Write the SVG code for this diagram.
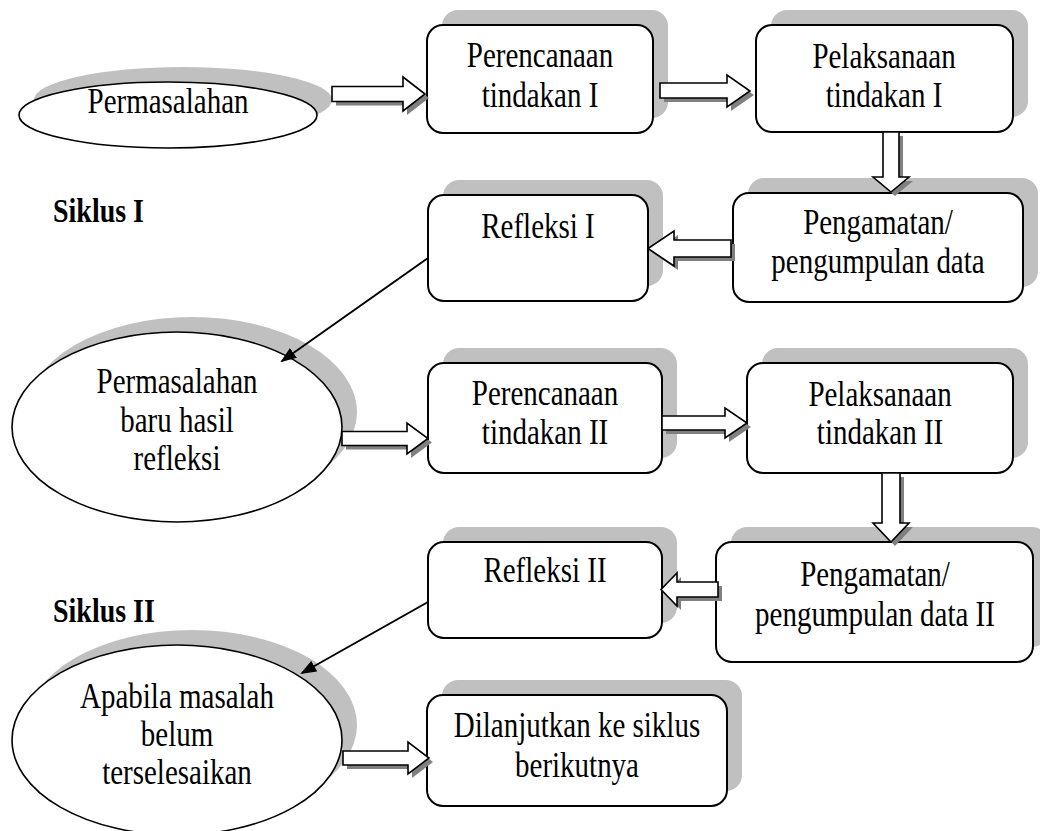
<svg xmlns="http://www.w3.org/2000/svg" xmlns:xlink="http://www.w3.org/1999/xlink" width="1040" height="831" viewBox="0 0 1040 831">
<style>
.bg{fill:#ffffff}
.sh{fill:#c0c0c0;stroke:none}
.nd{fill:#ffffff;stroke:#000000;stroke-width:2}
.el{fill:#ffffff;stroke:#000000;stroke-width:1.6}
.t{font-family:"Liberation Serif","Times New Roman",serif;font-size:29px;fill:#000000;text-anchor:middle}
.lb{font-family:"Liberation Serif","Times New Roman",serif;font-size:28px;font-weight:bold;fill:#000000}
.ash{fill:#808080;stroke:none}
.ar{fill:#ffffff;stroke:#000000;stroke-width:1.6;stroke-linejoin:miter}
.ln{fill:none;stroke:#000000;stroke-width:2}
</style>
<defs>
<marker id="tri" viewBox="0 0 16 12" refX="14" refY="6" markerWidth="16" markerHeight="12" markerUnits="userSpaceOnUse" orient="auto">
<path d="M0,0 L16,6 L0,12 Z" fill="#000000"/>
</marker>
<path id="pA1" d="M332,86.5 H403 V77 L425,94 L403,111 V101.5 H332 Z"/>
<path id="pA2" d="M660,83 H727 V75 L750,91 L727,107 V98 H660 Z"/>
<path id="pA3" d="M883,132 V177 H873 L891,192 L909,177 H899 V132 Z"/>
<path id="pA4" d="M731,240 H674 V231 L648,248.5 L674,266 V257 H731 Z"/>
<path id="pA5" d="M342,431.5 H407 V423 L428,438.5 L407,454 V445.5 H342 Z"/>
<path id="pA6" d="M662,416 H725 V408 L747,423 L725,438 V430 H662 Z"/>
<path id="pA7" d="M882,473 V523 H873 L891,542 L909,523 H900 V473 Z"/>
<path id="pA8" d="M718,582 H677 V573 L661,589.5 L677,606 V597 H718 Z"/>
<path id="pA9" d="M343,751 H408 V742 L429,758 L408,774 V765 H343 Z"/>
</defs>
<rect class="bg" x="0" y="0" width="1040" height="831"/>

<g id="label-siklus-1"><text class="lb" transform="matrix(1 0 0 1.2 53 222)">Siklus I</text></g>
<g id="label-siklus-2"><text class="lb" transform="matrix(1 0 0 1.2 53 622)">Siklus II</text></g>

<g id="node-permasalahan">
<ellipse class="sh" cx="183" cy="100" rx="149" ry="33"/>
<ellipse class="el" cx="168" cy="115" rx="149" ry="33"/>
<text class="t" transform="matrix(1 0 0 1.2 168 113)">Permasalahan</text>
</g>

<g id="node-perencanaan-1">
<rect class="sh" x="442" y="10" width="226" height="108" rx="16"/>
<rect class="nd" x="427" y="25" width="226" height="108" rx="16"/>
<text class="t" transform="matrix(1 0 0 1.2 540 67)">Perencanaan</text>
<text class="t" transform="matrix(1 0 0 1.2 540 107)">tindakan I</text>
</g>

<g id="node-pelaksanaan-1">
<rect class="sh" x="771" y="10" width="257" height="107" rx="16"/>
<rect class="nd" x="756" y="25" width="257" height="107" rx="16"/>
<text class="t" transform="matrix(1 0 0 1.2 884 68)">Pelaksanaan</text>
<text class="t" transform="matrix(1 0 0 1.2 884 107)">tindakan I</text>
</g>

<g id="node-pengamatan-1">
<rect class="sh" x="748" y="178" width="290" height="109" rx="16"/>
<rect class="nd" x="733" y="193" width="290" height="109" rx="16"/>
<text class="t" transform="matrix(1 0 0 1.2 878 234)">Pengamatan/</text>
<text class="t" transform="matrix(1 0 0 1.2 878 273)">pengumpulan data</text>
</g>

<g id="node-refleksi-1">
<rect class="sh" x="443" y="180" width="220" height="106" rx="16"/>
<rect class="nd" x="428" y="195" width="220" height="106" rx="16"/>
<text class="t" transform="matrix(1 0 0 1.2 538 238)">Refleksi I</text>
</g>

<g id="node-permasalahan-baru">
<ellipse class="sh" cx="192" cy="412" rx="165" ry="95"/>
<ellipse class="el" cx="177" cy="427" rx="165" ry="95"/>
<text class="t" transform="matrix(1 0 0 1.2 177 393)">Permasalahan</text>
<text class="t" transform="matrix(1 0 0 1.2 177 432)">baru hasil</text>
<text class="t" transform="matrix(1 0 0 1.2 177 470)">refleksi</text>
</g>

<g id="node-perencanaan-2">
<rect class="sh" x="443" y="348" width="234" height="110" rx="16"/>
<rect class="nd" x="428" y="363" width="234" height="110" rx="16"/>
<text class="t" transform="matrix(1 0 0 1.2 545 405)">Perencanaan</text>
<text class="t" transform="matrix(1 0 0 1.2 545 444)">tindakan II</text>
</g>

<g id="node-pelaksanaan-2">
<rect class="sh" x="762" y="348" width="266" height="110" rx="16"/>
<rect class="nd" x="747" y="363" width="266" height="110" rx="16"/>
<text class="t" transform="matrix(1 0 0 1.2 880 406)">Pelaksanaan</text>
<text class="t" transform="matrix(1 0 0 1.2 880 444)">tindakan II</text>
</g>

<g id="node-pengamatan-2">
<rect class="sh" x="731" y="527" width="317" height="120" rx="16"/>
<rect class="nd" x="716" y="542" width="317" height="120" rx="16"/>
<text class="t" transform="matrix(1 0 0 1.2 875 586)">Pengamatan/</text>
<text class="t" transform="matrix(1 0 0 1.2 875 626)">pengumpulan data II</text>
</g>

<g id="node-refleksi-2">
<rect class="sh" x="443" y="527" width="234" height="96" rx="16"/>
<rect class="nd" x="428" y="542" width="234" height="96" rx="16"/>
<text class="t" transform="matrix(1 0 0 1.2 545 582)">Refleksi II</text>
</g>

<g id="node-apabila">
<ellipse class="sh" cx="192" cy="725" rx="165" ry="95"/>
<ellipse class="el" cx="177" cy="740" rx="165" ry="95"/>
<text class="t" transform="matrix(1 0 0 1.2 177 708)">Apabila masalah</text>
<text class="t" transform="matrix(1 0 0 1.2 177 746)">belum</text>
<text class="t" transform="matrix(1 0 0 1.2 177 784)">terselesaikan</text>
</g>

<g id="node-dilanjutkan">
<rect class="sh" x="442" y="680" width="300" height="111" rx="16"/>
<rect class="nd" x="427" y="695" width="300" height="111" rx="16"/>
<text class="t" transform="matrix(1 0 0 1.2 577 737)">Dilanjutkan ke siklus</text>
<text class="t" transform="matrix(1 0 0 1.2 577 777)">berikutnya</text>
</g>

<g id="connectors">
<use xlink:href="#pA1" class="ash" transform="translate(4,4)"/><use xlink:href="#pA1" class="ar"/>
<use xlink:href="#pA2" class="ash" transform="translate(4,4)"/><use xlink:href="#pA2" class="ar"/>
<use xlink:href="#pA3" class="ash" transform="translate(4,4)"/><use xlink:href="#pA3" class="ar"/>
<use xlink:href="#pA4" class="ash" transform="translate(4,4)"/><use xlink:href="#pA4" class="ar"/>
<use xlink:href="#pA5" class="ash" transform="translate(4,4)"/><use xlink:href="#pA5" class="ar"/>
<use xlink:href="#pA6" class="ash" transform="translate(4,4)"/><use xlink:href="#pA6" class="ar"/>
<use xlink:href="#pA7" class="ash" transform="translate(4,4)"/><use xlink:href="#pA7" class="ar"/>
<use xlink:href="#pA8" class="ash" transform="translate(4,4)"/><use xlink:href="#pA8" class="ar"/>
<use xlink:href="#pA9" class="ash" transform="translate(4,4)"/><use xlink:href="#pA9" class="ar"/>
<line class="ln" x1="428" y1="258" x2="282" y2="361" marker-end="url(#tri)"/>
<line class="ln" x1="428" y1="602" x2="302" y2="673" marker-end="url(#tri)"/>
</g>
</svg>
